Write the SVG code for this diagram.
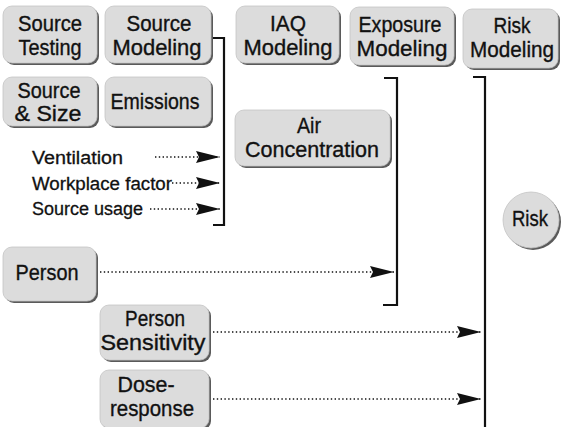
<svg xmlns="http://www.w3.org/2000/svg" width="564" height="427" viewBox="0 0 564 427">
<style>
.sh{fill:#5a5a5a}
.bx{fill:#dcdcdc;stroke:#c4c4c4;stroke-width:0.8}
.t{font-family:"Liberation Sans",Arial,sans-serif;font-size:22px;fill:#111;stroke:#111;stroke-width:0.35;text-anchor:middle}
.s{font-family:"Liberation Sans",Arial,sans-serif;font-size:18px;fill:#111;stroke:#111;stroke-width:0.3}
.br{fill:none;stroke:#111;stroke-width:2.2}
.dot{fill:none;stroke:#111;stroke-width:1.6;stroke-dasharray:1.4 2.4}
</style>
<defs>
<marker id="ah" markerUnits="userSpaceOnUse" markerWidth="26" markerHeight="13" refX="24" refY="6.5" orient="auto">
<path d="M0,0.5 L24,6.5 L0,12.5 L3,6.5 Z" fill="#111"/>
</marker>
</defs>
<g id="connectors">
<path class="br" d="M212,38 H224 V225 H213"/>
<path class="br" d="M384,78 H397 V305 H383"/>
<path class="br" d="M473,77 H485 V427"/>
<path class="dot" d="M155,157 H220" marker-end="url(#ah)"/>
<path class="dot" d="M172,183 H220" marker-end="url(#ah)"/>
<path class="dot" d="M150,209 H220" marker-end="url(#ah)"/>
<path class="dot" d="M100,272 H394" marker-end="url(#ah)"/>
<path class="dot" d="M213,332 H481" marker-end="url(#ah)"/>
<path class="dot" d="M213,399 H481" marker-end="url(#ah)"/>
</g>
<g id="source-testing">
<rect class="sh" x="5" y="8" width="94" height="57" rx="9"/>
<rect class="bx" x="3" y="6" width="94" height="57" rx="9"/>
<text class="t" x="50" y="31" textLength="64" lengthAdjust="spacingAndGlyphs">Source</text>
<text class="t" x="50" y="55" textLength="63" lengthAdjust="spacingAndGlyphs">Testing</text>
</g>
<g id="source-modeling">
<rect class="sh" x="107" y="8" width="106" height="57" rx="9"/>
<rect class="bx" x="105" y="6" width="106" height="57" rx="9"/>
<text class="t" x="159" y="31" textLength="65" lengthAdjust="spacingAndGlyphs">Source</text>
<text class="t" x="157" y="55" textLength="89" lengthAdjust="spacingAndGlyphs">Modeling</text>
</g>
<g id="iaq-modeling">
<rect class="sh" x="238" y="8" width="103" height="57" rx="9"/>
<rect class="bx" x="236" y="6" width="103" height="57" rx="9"/>
<text class="t" x="288" y="31" textLength="36" lengthAdjust="spacingAndGlyphs">IAQ</text>
<text class="t" x="288" y="55" textLength="89" lengthAdjust="spacingAndGlyphs">Modeling</text>
</g>
<g id="exposure-modeling">
<rect class="sh" x="352" y="9" width="104" height="58" rx="9"/>
<rect class="bx" x="350" y="7" width="104" height="58" rx="9"/>
<text class="t" x="400" y="32" textLength="83" lengthAdjust="spacingAndGlyphs">Exposure</text>
<text class="t" x="402" y="56" textLength="91" lengthAdjust="spacingAndGlyphs">Modeling</text>
</g>
<g id="risk-modeling">
<rect class="sh" x="465" y="11" width="95" height="59" rx="9"/>
<rect class="bx" x="463" y="9" width="95" height="59" rx="9"/>
<text class="t" x="512" y="33" textLength="37" lengthAdjust="spacingAndGlyphs">Risk</text>
<text class="t" x="512" y="57" textLength="84" lengthAdjust="spacingAndGlyphs">Modeling</text>
</g>
<g id="source-size">
<rect class="sh" x="5" y="79" width="94" height="49" rx="9"/>
<rect class="bx" x="3" y="77" width="94" height="49" rx="9"/>
<text class="t" x="49" y="98" textLength="63" lengthAdjust="spacingAndGlyphs">Source</text>
<text class="t" x="48" y="121" textLength="67" lengthAdjust="spacingAndGlyphs">&amp; Size</text>
</g>
<g id="emissions">
<rect class="sh" x="107" y="79" width="106" height="49" rx="9"/>
<rect class="bx" x="105" y="77" width="106" height="49" rx="9"/>
<text class="t" x="155" y="109" textLength="89" lengthAdjust="spacingAndGlyphs">Emissions</text>
</g>
<g id="air-concentration">
<rect class="sh" x="237" y="112" width="155" height="56" rx="9"/>
<rect class="bx" x="235" y="110" width="155" height="56" rx="9"/>
<text class="t" x="309" y="133" textLength="24" lengthAdjust="spacingAndGlyphs">Air</text>
<text class="t" x="312" y="157" textLength="134" lengthAdjust="spacingAndGlyphs">Concentration</text>
</g>
<g id="inputs">
<text class="s" x="32" y="164" textLength="91" lengthAdjust="spacingAndGlyphs">Ventilation</text>
<text class="s" x="32" y="190" textLength="140" lengthAdjust="spacingAndGlyphs">Workplace factor</text>
<text class="s" x="32" y="215" textLength="111" lengthAdjust="spacingAndGlyphs">Source usage</text>
</g>
<g id="risk">
<circle class="sh" cx="533" cy="222" r="28"/>
<circle class="bx" cx="531" cy="220" r="28"/>
<text class="t" x="530" y="226" textLength="36" lengthAdjust="spacingAndGlyphs">Risk</text>
</g>
<g id="person">
<rect class="sh" x="5" y="249" width="93" height="54" rx="9"/>
<rect class="bx" x="3" y="247" width="93" height="54" rx="9"/>
<text class="t" x="47" y="280" textLength="63" lengthAdjust="spacingAndGlyphs">Person</text>
</g>
<g id="person-sensitivity">
<rect class="sh" x="102" y="307" width="109" height="55" rx="9"/>
<rect class="bx" x="100" y="305" width="109" height="55" rx="9"/>
<text class="t" x="155" y="326" textLength="60" lengthAdjust="spacingAndGlyphs">Person</text>
<text class="t" x="153" y="350" textLength="105" lengthAdjust="spacingAndGlyphs">Sensitivity</text>
</g>
<g id="dose-response">
<rect class="sh" x="102" y="372" width="109" height="58" rx="9"/>
<rect class="bx" x="100" y="370" width="109" height="58" rx="9"/>
<text class="t" x="146" y="392" textLength="57" lengthAdjust="spacingAndGlyphs">Dose-</text>
<text class="t" x="152" y="416" textLength="84" lengthAdjust="spacingAndGlyphs">response</text>
</g>
</svg>
